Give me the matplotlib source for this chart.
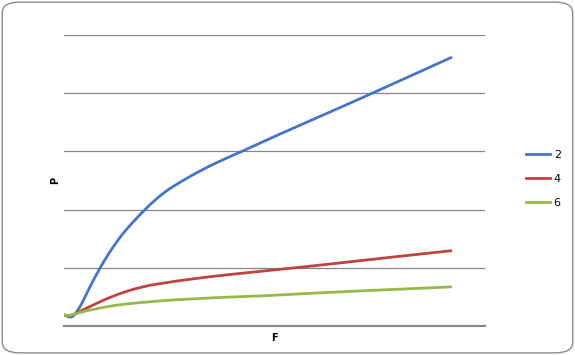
import matplotlib
matplotlib.use("Agg")
import matplotlib.pyplot as plt
from matplotlib.patches import FancyBboxPatch, PathPatch
from matplotlib.path import Path
from matplotlib.lines import Line2D

# series values (F in arbitrary units, P in gridline units)
F_2 = [0.00, 0.08, 0.16, 0.26, 0.36, 0.48, 0.61, 0.81, 1.01, 1.26, 1.51,
       1.79, 2.16, 2.76, 3.06, 3.46, 3.87]
P_2 = [0.190, 0.160, 0.333, 0.672, 0.995, 1.328, 1.629, 2.000, 2.302, 2.569,
       2.793, 3.009, 3.298, 3.753, 3.983, 4.293, 4.612]

F_4 = [0.00, 0.05, 0.11, 0.20, 0.293, 0.46, 0.627, 0.79, 0.96, 1.29, 1.63,
       2.16, 2.36, 2.86, 3.36, 3.87]
P_4 = [0.190, 0.181, 0.207, 0.284, 0.362, 0.491, 0.595, 0.672, 0.728, 0.810,
       0.879, 0.974, 1.009, 1.103, 1.198, 1.293]

F_6 = [0.00, 0.05, 0.11, 0.20, 0.29, 0.46, 0.627, 0.96, 1.29, 1.63, 1.96,
       2.36, 2.86, 3.36, 3.87]
P_6 = [0.190, 0.181, 0.207, 0.250, 0.284, 0.340, 0.379, 0.431, 0.466, 0.495,
       0.517, 0.552, 0.595, 0.633, 0.672]

labels = ["2", "4", "6"]
colors = ["#4676c0", "#c0433f", "#94b94a"]


def smooth_path(xs, ys):
    # Excel-style smoothed line: Catmull-Rom segments as cubic Beziers
    verts = [(xs[0], ys[0])]
    codes = [Path.MOVETO]
    n = len(xs)
    for i in range(n - 1):
        x0, y0 = (xs[i - 1], ys[i - 1]) if i > 0 else (xs[i], ys[i])
        x1, y1 = xs[i], ys[i]
        x2, y2 = xs[i + 1], ys[i + 1]
        x3, y3 = (xs[i + 2], ys[i + 2]) if i + 2 < n else (x2, y2)
        c1 = (x1 + (x2 - x0) / 6, y1 + (y2 - y0) / 6)
        c2 = (x2 - (x3 - x1) / 6, y2 - (y3 - y1) / 6)
        verts += [c1, c2, (x2, y2)]
        codes += [Path.CURVE4] * 3
    return Path(verts, codes)


fig = plt.figure(figsize=(5.75, 3.55), dpi=100)
fig.patches.append(FancyBboxPatch((0.004, 0.006), 0.992, 0.988,
                                  boxstyle="round,pad=0,rounding_size=0.03",
                                  transform=fig.transFigure, facecolor="white",
                                  edgecolor="#8c8c8c", linewidth=1.0, zorder=-1))

ax = fig.add_axes([0.1113, 0.0817, 0.7322, 0.8197])
ax.set_facecolor("none")
for f, p, c in zip([F_2, F_4, F_6], [P_2, P_4, P_6], colors):
    ax.add_patch(PathPatch(smooth_path(f, p), facecolor="none", edgecolor=c,
                           lw=2.0, capstyle="round", joinstyle="round", zorder=3))

ax.set_xlim(0, 4.21)
ax.set_ylim(0, 5)
ax.set_yticks(range(0, 6))
ax.set_xticks([])
ax.yaxis.grid(True, color="#868686", lw=0.9)
ax.tick_params(axis="y", length=0, labelleft=False)
for s in ["top", "right", "left"]:
    ax.spines[s].set_visible(False)
ax.spines["bottom"].set_color("#868686")
ax.spines["bottom"].set_linewidth(1.5)

fig.text(55 / 575, 1 - 180 / 355, "P", rotation=90, ha="center", va="center",
         fontsize=7, fontweight="bold", family="DejaVu Sans")
fig.text(274 / 575, 1 - 338 / 355, "F", ha="center", va="center",
         fontsize=7, fontweight="bold", family="DejaVu Sans")

handles = [Line2D([], [], color=c, lw=2.0) for c in colors]
fig.legend(handles, labels, loc="center left", bbox_to_anchor=(0.905, 0.495),
           frameon=False, fontsize=8, handlelength=2.2, handletextpad=0.3,
           labelspacing=1.25, borderpad=0)

fig.savefig("out.png", dpi=100)
